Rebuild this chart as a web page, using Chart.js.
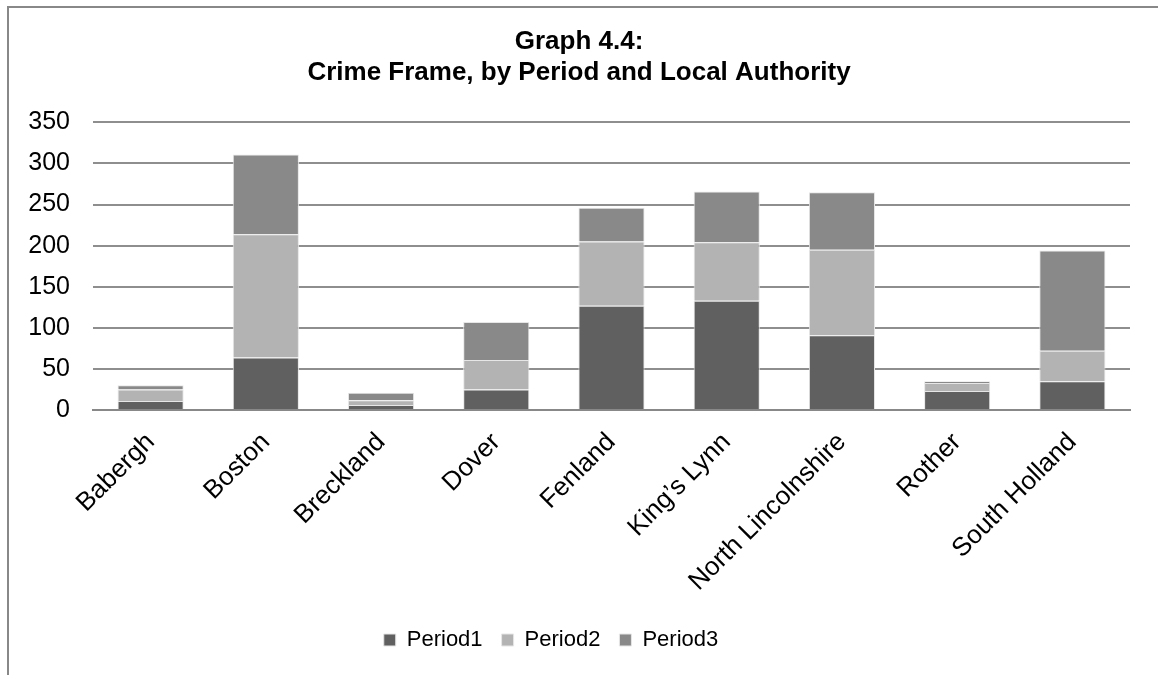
<!DOCTYPE html>
<html>
<head>
<meta charset="utf-8">
<script src="https://cdn.jsdelivr.net/npm/chart.js@4/dist/chart.umd.min.js"></script>
<style>
  html, body { margin: 0; padding: 0; background: #fff; }
  body { width: 1158px; height: 675px; overflow: hidden; position: relative; }
  #frame {
    position: absolute; left: 7px; top: 6px; width: 1151px; height: 669px;
    border-left: 2px solid #888; border-top: 2px solid #888; box-sizing: border-box;
  }
  #wrap { position: absolute; left: 0; top: 0; width: 1149px; height: 667px; }
</style>
</head>
<body>
<div id="frame">
  <div id="wrap"><canvas id="crimeChart"></canvas></div>
</div>
<script>
const authorities = ['Babergh', 'Boston', 'Breckland', 'Dover', 'Fenland', "King’s Lynn", 'North Lincolnshire', 'Rother', 'South Holland'];
const period1 = [11, 64, 6, 25, 127, 133, 91, 23, 35];
const period2 = [14, 150, 6, 36, 78, 71, 104, 10, 37];
const period3 = [5, 97, 9, 46, 41, 62, 70, 2, 122];
const yTicks = [0, 50, 100, 150, 200, 250, 300, 350];

document.addEventListener('DOMContentLoaded', function() {
    const font = "'Liberation Sans', Arial, sans-serif";
    const ctx = document.getElementById('crimeChart');

    const makeSet = (label, data, color) => ({
        label: label,
        data: data,
        backgroundColor: color,
        borderColor: '#e6e6e6',
        borderWidth: 1,
        barPercentage: 0.574,
        categoryPercentage: 1.0
    });

    // legenda w oryginale jest troche przesunieta w lewo
    const legendShift = {
        id: 'legendShift',
        afterLayout(chart) {
            chart.legend.left -= 28;
            chart.legend.right -= 28;
        }
    };

    new Chart(ctx, {
        type: 'bar',
        data: {
            labels: authorities,
            datasets: [
                makeSet('Period1', period1, '#606060'),
                makeSet('Period2', period2, '#b3b3b3'),
                makeSet('Period3', period3, '#898989')
            ]
        },
        plugins: [legendShift],
        options: {
            responsive: true,
            maintainAspectRatio: false,
            animation: false,
            layout: { padding: { left: 19, right: 28, top: 18, bottom: 14 } },
            plugins: {
                title: {
                    display: true,
                    text: ['Graph 4.4:', 'Crime Frame, by Period and Local Authority'],
                    color: '#000',
                    font: { family: font, size: 26, weight: 'bold', lineHeight: 1.2 },
                    padding: { top: 0, bottom: 34 }
                },
                legend: {
                    position: 'bottom',
                    labels: {
                        color: '#000',
                        font: { family: font, size: 22 },
                        boxWidth: 12,
                        boxHeight: 12,
                        padding: 19
                    }
                },
                tooltip: { enabled: false }
            },
            scales: {
                x: {
                    stacked: true,
                    grid: { display: false, drawTicks: false },
                    border: { color: '#888', width: 2 },
                    ticks: {
                        color: '#000',
                        font: { family: font, size: 26 },
                        maxRotation: 45,
                        minRotation: 45,
                        padding: 17
                    },
                    afterFit: (scale) => {
                        scale.paddingLeft = 0;
                        scale.paddingRight = 0;
                        scale.height = 200;
                    }
                },
                y: {
                    stacked: true,
                    min: 0,
                    max: 350,
                    afterBuildTicks: (axis) => { axis.ticks = yTicks.map(v => ({ value: v })); },
                    afterFit: (scale) => { scale.width = 65; },
                    grid: { color: '#8e8e8e', lineWidth: 2, drawTicks: false },
                    border: { display: false },
                    ticks: {
                        color: '#000',
                        font: { family: font, size: 25 },
                        padding: 23
                    }
                }
            }
        }
    });
});
</script>
</body>
</html>
